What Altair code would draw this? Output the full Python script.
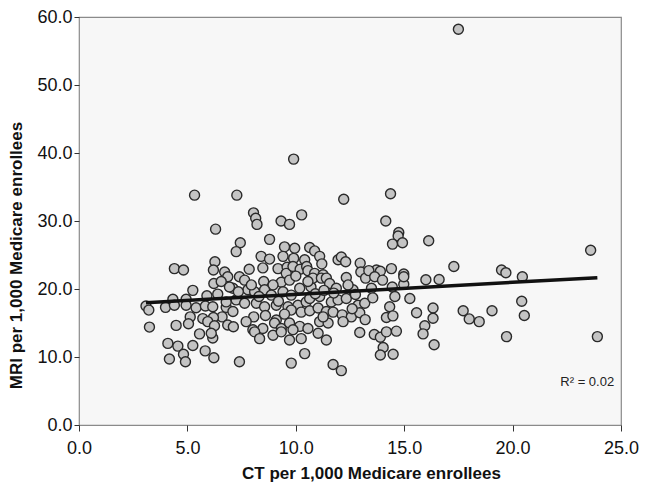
import altair as alt
import pandas as pd

# CT (x) and MRI (y) per 1,000 Medicare enrollees
ct = [
    17.5, 9.9, 5.33, 7.28, 14.37, 12.21, 8.05, 8.15, 8.21, 9.32, 9.71, 10.27, 14.15, 6.3,
    14.75, 14.72, 8.79, 7.44, 14.46, 14.92, 16.13, 7.25, 9.48, 9.95, 10.64, 10.87, 23.6,
    8.4, 8.79, 9.41, 9.9, 10.41, 11.1, 11.2, 11.95, 12.1, 12.3, 12.97, 6.27, 4.4, 4.82,
    6.2, 6.72, 7.85, 7.4, 6.86, 8.48, 9.18, 9.6, 9.56, 9.87, 10.2, 10.5, 10.56, 13.0,
    12.33, 13.22, 10.87, 11.26, 14.41, 13.72, 13.37, 13.9, 14.98, 16.0, 16.61, 13.64,
    14.0, 17.29, 19.49, 19.69, 20.45,
    8.52, 9.33, 9.71, 10.18, 10.7, 10.79, 11.18, 11.41, 10.56, 8.95, 7.64, 7.79, 7.1,
    8.1, 8.56, 8.87, 9.41, 9.79, 12.64, 11.56, 11.87, 12.41, 13.49, 14.45, 14.98, 14.98,
    6.22, 6.56, 6.94, 6.4, 5.9, 4.33, 4.94, 3.09, 3.22, 3.99, 4.4, 4.94, 5.4, 5.83, 6.17,
    6.79, 6.79, 7.25, 7.64, 8.18, 8.56, 9.1, 9.64, 10.1, 10.48, 10.64, 11.1, 11.64,
    11.95, 12.33, 12.87, 13.18, 14.33, 15.26, 14.57, 9.79, 10.25, 10.64,
    11.03, 11.41, 11.72, 12.14, 12.56, 12.95, 13.2, 14.18, 14.48, 11.1, 11.49, 12.18,
    15.57, 16.33, 16.33, 17.72, 18.0, 18.46, 19.05, 20.42, 20.54, 19.72, 23.91,
    8.06, 8.6, 9.1, 9.48, 11.26, 7.71, 7.1, 6.6, 6.2, 5.71, 5.13, 5.05, 4.48, 3.25,
    5.94, 6.25, 6.86, 7.12, 5.56, 6.17, 6.1, 8.02, 8.48, 9.02, 9.33, 9.71, 10.18,
    10.56, 11.03, 8.1, 8.33, 8.95, 9.33, 9.71, 9.87, 10.25, 11.41, 12.95, 13.62, 13.9,
    14.18, 14.64, 15.95, 15.87, 16.38, 14.03, 13.9, 14.49, 10.41, 9.79, 11.72, 12.1,
    4.1, 4.56, 5.25, 4.82, 4.17, 4.91, 5.82, 6.22, 7.4,
    5.25, 7.95, 8.3, 9.2, 10.9, 11.75, 12.6, 13.55, 7.35, 12.75, 10.0, 11.3,
]
mri = [
    58.2, 39.1, 33.8, 33.8, 34.0, 33.2, 31.2, 30.4, 29.5, 30.0, 29.5, 30.9, 30.0, 28.8,
    28.3, 27.8, 27.3, 26.8, 26.6, 26.8, 27.1, 25.5, 26.2, 26.0, 26.1, 25.6, 25.7,
    24.8, 24.4, 24.8, 24.5, 24.3, 24.8, 23.7, 24.3, 24.7, 24.0, 23.8, 24.0, 23.0, 22.8,
    22.8, 22.5, 22.9, 21.8, 21.8, 23.1, 23.0, 23.2, 22.3, 23.3, 22.9, 23.3, 22.7, 22.5,
    21.7, 21.6, 22.3, 22.1, 23.0, 22.8, 22.7, 22.6, 22.2, 21.35, 21.4, 21.8,
    21.3, 23.3, 22.8, 22.4, 21.8,
    21.1, 21.0, 21.3, 20.1, 20.3, 21.6, 21.6, 21.6, 21.1, 20.6, 21.3, 19.9, 20.1,
    19.6, 19.9, 19.1, 19.6, 19.1, 19.9, 20.8, 20.1, 20.6, 20.1, 20.3, 20.7, 21.8,
    20.8, 21.1, 20.3, 19.25, 19.0, 18.5, 18.5, 17.5, 16.9, 17.3, 17.6, 17.6, 17.25, 17.5, 17.4,
    17.3, 18.1, 18.4, 17.9, 17.9, 17.4, 17.6, 17.4, 17.6, 18.1, 18.6, 18.9, 18.1,
    18.4, 18.6, 17.6, 17.9, 17.4, 18.6, 18.9, 16.9, 16.6, 16.8,
    17.2, 16.7, 16.6, 16.2, 15.9, 16.5, 15.5, 15.8, 16.05, 15.2, 15.0, 15.2,
    16.5, 17.2, 15.7, 16.8, 15.6, 15.2, 16.8, 18.2, 16.1, 13.0, 13.0,
    15.9, 16.1, 15.45, 16.3, 15.9, 15.2, 16.7, 15.9, 15.8, 15.65, 15.9, 14.9, 14.65, 14.4,
    15.2, 14.6, 14.7, 14.45, 13.4, 12.8, 13.5, 14.0, 14.2, 15.0, 14.2, 15.0, 14.5,
    14.2, 13.5, 13.7, 12.7, 13.2, 13.7, 12.5, 14.0, 12.7, 12.5, 13.6, 13.3, 12.9,
    13.7, 13.8, 14.6, 13.4, 11.8, 11.4, 10.3, 10.4, 10.5, 9.1, 8.9, 8.0,
    12.0, 11.6, 11.7, 10.4, 9.7, 9.3, 10.9, 9.9, 9.3,
    19.8, 20.6, 18.9, 18.2, 19.3, 19.4, 17.1, 18.7, 19.6, 19.2, 21.9, 19.8,
]

note_x = [22.2]
note_y = [6.3]
note_text = ["R\u00b2 = 0.02"]

df = pd.DataFrame({"ct": ct, "mri": mri})
notes = pd.DataFrame({"x": note_x, "y": note_y, "t": note_text})

font = "Liberation Sans"

xscale = alt.Scale(domain=[0, 25], nice=False)
yscale = alt.Scale(domain=[0, 60], nice=False)

xaxis = alt.Axis(
    title="CT per 1,000 Medicare enrollees", values=[0, 5, 10, 15, 20, 25], format=".1f",
    grid=False, domain=False, tickColor="#333", tickSize=6, labelFontSize=18,
    labelColor="#111", labelFont=font, labelPadding=8, titleFont=font, titleFontSize=17,
    titleFontWeight="bold", titleColor="#111", titleX=292, titleY=40,
    titleBaseline="top", titleAlign="center", labelFlush=False,
)
yaxis = alt.Axis(
    title="MRI per 1,000 Medicare enrollees", values=[0, 10, 20, 30, 40, 50, 60], format=".1f",
    grid=False, domain=False, tickColor="#333", tickSize=5, labelFontSize=18,
    labelColor="#111", labelFont=font, labelPadding=2, titleFont=font, titleFontSize=17,
    titleFontWeight="bold", titleColor="#111", titleX=-54, titleY=238,
    titleAngle=270, titleBaseline="bottom", titleAlign="center",
)

points = alt.Chart(df).mark_point(
    shape="circle", filled=True, fill="#c4c4c4", stroke="#2a2a2a", strokeWidth=1.4,
    size=100, opacity=1,
).encode(
    x=alt.X("ct:Q", scale=xscale, axis=xaxis),
    y=alt.Y("mri:Q", scale=yscale, axis=yaxis),
)

trend = alt.Chart(df).transform_regression("ct", "mri").mark_line(
    color="#111", strokeWidth=3.5
).encode(x=alt.X("ct:Q", scale=xscale), y=alt.Y("mri:Q", scale=yscale))

note = alt.Chart(notes).mark_text(
    font=font, fontSize=13, color="#222", align="left", baseline="middle"
).encode(x=alt.X("x:Q", scale=xscale), y=alt.Y("y:Q", scale=yscale), text="t:N")

chart = alt.layer(points, trend, note).properties(
    width=542, height=408,
    autosize=alt.AutoSizeParams(type="none"),
    padding={"left": 71, "top": 9, "right": 20, "bottom": 57},
    background="white",
).configure_view(
    stroke="#8a8a8a", strokeWidth=1.2, fill="#f7f7f7"
)

chart.save("out.html", embed_options={"renderer": "svg", "actions": False})
